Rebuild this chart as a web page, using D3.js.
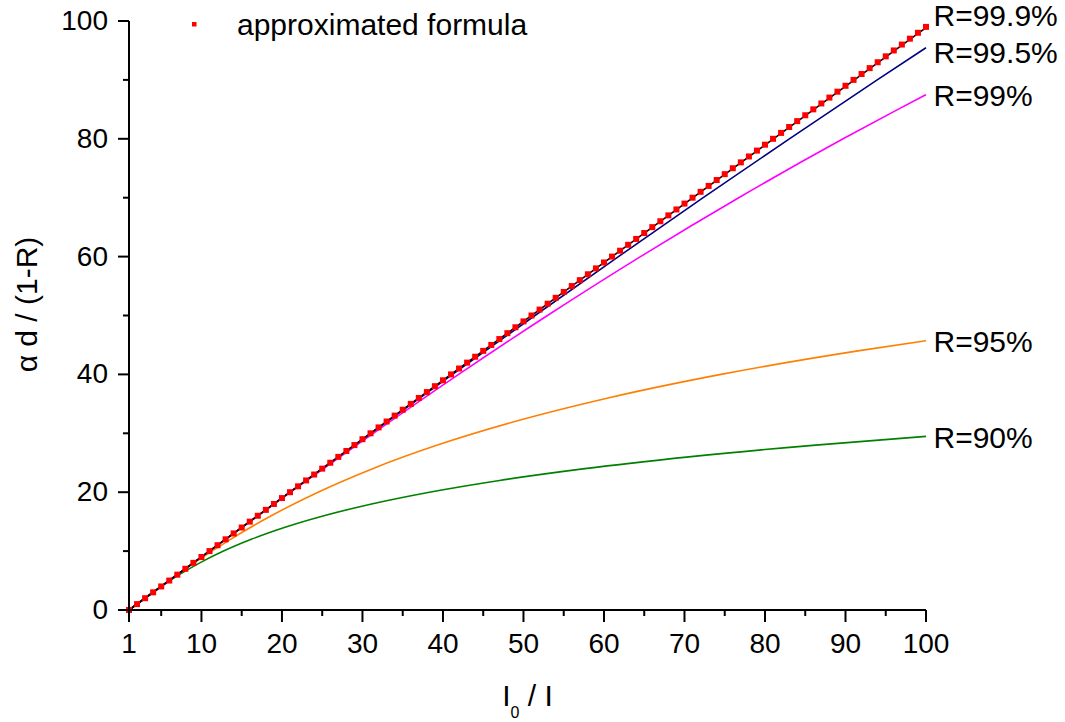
<!DOCTYPE html>
<html>
<head>
<meta charset="utf-8">
<script src="https://cdn.jsdelivr.net/npm/d3@7"></script>
<style>
  body { margin: 0; background: #fff; }
  svg { display: block; }
  text { font-family: "Liberation Sans", Arial, Helvetica, sans-serif; fill: #000; }
</style>
</head>
<body>
<svg id="chart" width="1065" height="722"></svg>
<script>
// Transmission ratio I0/I versus normalised absorption αd/(1-R) for several mirror reflectivities.
const ratio90  = [1, 2.938, 4.994, 7.250, 9.798, 12.738, 16.190, 20.292, 25.208, 31.135, 38.313, 47.028, 57.630, 70.545, 86.292, 100];
const value90  = [0, 2, 4, 6, 8, 10, 12, 14, 16, 18, 20, 22, 24, 26, 28, 29.47];

const ratio95  = [1, 4.949, 9.096, 13.609, 18.667, 24.475, 31.265, 39.309, 48.931, 60.518, 74.532, 91.539, 100];
const value95  = [0, 4, 8, 12, 16, 20, 24, 28, 32, 36, 40, 44, 45.73];

const ratio99  = [1, 10.972, 21.054, 31.346, 41.952, 52.978, 64.534, 76.736, 89.706, 96.520, 100];
const value99  = [0, 10, 20, 30, 40, 50, 60, 70, 80, 85, 87.49];

const ratio995 = [1, 10.981, 20.989, 31.049, 41.187, 51.428, 61.797, 72.322, 83.027, 93.940, 100];
const value995 = [0, 10, 20, 30, 40, 50, 60, 70, 80, 90, 95.46];

const ratio999 = [1, 20.992, 40.992, 61.008, 81.049, 100];
const value999 = [0, 20, 40, 60, 80, 98.88];

// Linear approximation, sampled at every integer ratio
const approxRatio = [1, 2, 3, 4, 5, 6, 7, 8, 9, 10, 11, 12, 13, 14, 15, 16, 17, 18, 19, 20,
  21, 22, 23, 24, 25, 26, 27, 28, 29, 30, 31, 32, 33, 34, 35, 36, 37, 38, 39, 40,
  41, 42, 43, 44, 45, 46, 47, 48, 49, 50, 51, 52, 53, 54, 55, 56, 57, 58, 59, 60,
  61, 62, 63, 64, 65, 66, 67, 68, 69, 70, 71, 72, 73, 74, 75, 76, 77, 78, 79, 80,
  81, 82, 83, 84, 85, 86, 87, 88, 89, 90, 91, 92, 93, 94, 95, 96, 97, 98, 99, 100];
const approxValue = [0, 1, 2, 3, 4, 5, 6, 7, 8, 9, 10, 11, 12, 13, 14, 15, 16, 17, 18, 19,
  20, 21, 22, 23, 24, 25, 26, 27, 28, 29, 30, 31, 32, 33, 34, 35, 36, 37, 38, 39,
  40, 41, 42, 43, 44, 45, 46, 47, 48, 49, 50, 51, 52, 53, 54, 55, 56, 57, 58, 59,
  60, 61, 62, 63, 64, 65, 66, 67, 68, 69, 70, 71, 72, 73, 74, 75, 76, 77, 78, 79,
  80, 81, 82, 83, 84, 85, 86, 87, 88, 89, 90, 91, 92, 93, 94, 95, 96, 97, 98, 99];

const seriesNames = ["R=90%", "R=95%", "R=99%", "R=99.5%", "R=99.9%"];
const legendLabel = "approximated formula";

const xMajorTicks = [1, 10, 20, 30, 40, 50, 60, 70, 80, 90, 100];
const xMinorTicks = [5, 15, 25, 35, 45, 55, 65, 75, 85, 95];
const yMajorTicks = [0, 20, 40, 60, 80, 100];
const yMinorTicks = [10, 30, 50, 70, 90];

// ---- drawing ----
const W = 1065, H = 722;
const svg = d3.select("#chart");
svg.append("rect").attr("width", W).attr("height", H).attr("fill", "#fff");

const x = d3.scaleLinear().domain([1, 100]).range([129, 926]);
const y = d3.scaleLinear().domain([0, 100]).range([610, 21]);

const series = [
  { name: seriesNames[0], ratio: ratio90,  value: value90,  color: "#008000", nudge: 0 },
  { name: seriesNames[1], ratio: ratio95,  value: value95,  color: "#FF8000", nudge: 0 },
  { name: seriesNames[2], ratio: ratio99,  value: value99,  color: "#FF00FF", nudge: 0 },
  { name: seriesNames[3], ratio: ratio995, value: value995, color: "#000080", nudge: 3.6 },
  { name: seriesNames[4], ratio: ratio999, value: value999, color: "#000000", nudge: -13 }
];

const line = d3.line()
  .x(d => x(d[0]))
  .y(d => y(d[1]))
  .curve(d3.curveMonotoneX);

const curves = svg.append("g");
series.forEach(s => {
  curves.append("path")
    .datum(d3.zip(s.ratio, s.value))
    .attr("d", line)
    .attr("fill", "none")
    .attr("stroke", s.color)
    .attr("stroke-width", 1.6);
});

// approximation markers
const m = 6;
svg.append("g").selectAll("rect")
  .data(d3.zip(approxRatio, approxValue))
  .join("rect")
  .attr("x", d => x(d[0]) - m / 2)
  .attr("y", d => y(d[1]) - m / 2)
  .attr("width", m)
  .attr("height", m)
  .attr("fill", "#FF0000");

// curve labels at the right end of each curve
const labels = svg.append("g");
series.forEach(s => {
  const last = s.value[s.value.length - 1];
  labels.append("text")
    .attr("x", x(100) + 7.5)
    .attr("y", y(last) + s.nudge)
    .attr("dy", "0.38em")
    .attr("font-size", 30)
    .text(s.name);
});

// axes
function styleAxis(g, fontSize) {
  g.attr("font-family", null).attr("font-size", null);
  g.selectAll(".domain").attr("stroke", "#000").attr("stroke-width", 2);
  g.selectAll(".tick line").attr("stroke", "#000").attr("stroke-width", 2);
  g.selectAll(".tick text").attr("font-size", fontSize).attr("fill", "#000");
}

const gxMinor = svg.append("g").attr("transform", "translate(0,610)")
  .call(d3.axisBottom(x).tickValues(xMinorTicks).tickFormat("").tickSize(6).tickSizeOuter(0).offset(0));
gxMinor.select(".domain").remove();
styleAxis(gxMinor, 28);

const gyMinor = svg.append("g").attr("transform", "translate(129,0)")
  .call(d3.axisLeft(y).tickValues(yMinorTicks).tickFormat("").tickSize(6).tickSizeOuter(0).offset(0));
gyMinor.select(".domain").remove();
styleAxis(gyMinor, 28);

const gx = svg.append("g").attr("transform", "translate(0,610)")
  .call(d3.axisBottom(x).tickValues(xMajorTicks).tickFormat(d3.format("d"))
    .tickSize(12).tickSizeOuter(0).tickPadding(11).offset(0));
styleAxis(gx, 28);

const gy = svg.append("g").attr("transform", "translate(129,0)")
  .call(d3.axisLeft(y).tickValues(yMajorTicks).tickFormat(d3.format("d"))
    .tickSize(11).tickSizeOuter(0).tickPadding(10).offset(0));
styleAxis(gy, 28);

// axis titles
const xt = svg.append("text")
  .attr("x", (x(1) + x(100)) / 2)
  .attr("y", 706)
  .attr("text-anchor", "middle")
  .attr("font-size", 30);
xt.append("tspan").text("I");
xt.append("tspan").attr("font-size", 16).attr("dy", 12).text("0");
xt.append("tspan").attr("dy", -12).text(" / I");

svg.append("text")
  .attr("transform", "translate(37," + ((y(0) + y(100)) / 2 - 11) + ") rotate(-90)")
  .attr("text-anchor", "middle")
  .attr("font-size", 30)
  .text("\u03B1 d / (1-R)");

// legend
svg.append("rect")
  .attr("x", 192).attr("y", 22)
  .attr("width", 4.5).attr("height", 4.5)
  .attr("fill", "#FF0000");
svg.append("text")
  .attr("x", 237).attr("y", 35)
  .attr("font-size", 30)
  .text(legendLabel);
</script>
</body>
</html>
